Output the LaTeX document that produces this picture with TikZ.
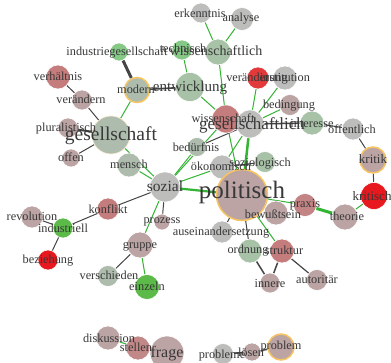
\documentclass[tikz,border=0pt]{standalone}
\usepackage{fontspec}
\setmainfont{Liberation Serif}
\pgfdeclarelayer{edges}
\pgfdeclarelayer{labels}
\pgfsetlayers{edges,main,labels}
\begin{document}
\definecolor{cgray}{HTML}{BDBDBB}
\definecolor{csage}{HTML}{A8C2A8}
\definecolor{csagegray}{HTML}{ADBCAD}
\definecolor{clgreen}{HTML}{86C986}
\definecolor{cgreen}{HTML}{5CBA48}
\definecolor{cmauve}{HTML}{BCA4A4}
\definecolor{crose}{HTML}{C47C7C}
\definecolor{cred}{HTML}{E23A3A}
\definecolor{cbred}{HTML}{E8181F}
\definecolor{hlorange}{HTML}{F7C462}
\definecolor{egreen}{HTML}{33B533}
\definecolor{edark}{HTML}{454545}
\definecolor{tgray}{HTML}{383838}
\begin{tikzpicture}[x=1pt,y=-1pt,
  nd/.style={circle,inner sep=0pt,draw=white,line width=0.6pt,minimum size=#1},
  hl/.style={draw=hlorange,line width=1.5pt},
  ge/.style={draw=egreen,line width=1pt},
  de/.style={draw=edark,line width=1pt},
  lbl/.style={anchor=base,inner sep=0pt,text=tgray,font=\fontsize{12.3}{13}\selectfont},
  lblbig/.style={anchor=base,inner sep=0pt,text=tgray,font=\fontsize{#1}{#1}\selectfont}]
\useasboundingbox (0,0) rectangle (391,363);

% ---- circles ----
\node[nd=20pt,fill=cgray] (erkenntnis) at (201,13) {};
\node[nd=23pt,fill=cgray] (analyse) at (242,19) {};
\node[nd=26pt,fill=csage] (wissenschaftlich) at (218,52) {};
\node[nd=20pt,fill=clgreen] (technisch) at (182,50) {};
\node[nd=18pt,fill=clgreen] (industriegesellschaft) at (119,52) {};
\node[nd=24pt,fill=crose] (verhaeltnis) at (58,77) {};
\node[nd=20pt,fill=cmauve] (veraendern) at (82,100) {};
\node[nd=25pt,fill=csagegray,hl] (modern) at (137,90) {};
\node[nd=29pt,fill=csage] (entwicklung) at (190,87) {};
\node[nd=20pt,fill=cmauve] (pluralistisch) at (68,128) {};
\node[nd=38pt,fill=csagegray,draw=hlorange!30] (gesellschaft) at (111,135) {};
\node[nd=18pt,fill=cmauve] (offen) at (71,158) {};
\node[nd=24pt,fill=csagegray] (mensch) at (129,165) {};
\node[nd=30pt,fill=cgray] (sozial) at (165,187) {};
\node[nd=19pt,fill=csagegray] (beduerfnis) at (197,147) {};
\node[nd=24pt,fill=cgray] (oekonomisch) at (222,167) {};
\node[nd=21pt,fill=csage] (soziologisch) at (265,162) {};
\node[nd=22pt,fill=cred] (veraenderung) at (258,78) {};
\node[nd=24pt,fill=cgray] (institution) at (285,78) {};
\node[nd=21pt,fill=cmauve] (bedingung) at (290,105) {};
\node[nd=28pt,fill=crose] (wissenschaft) at (226,119) {};
\node[nd=28pt,fill=cgray] (gesellschaftlich) at (250,124) {};
\node[nd=24pt,fill=csage] (interesse) at (312,123) {};
\node[nd=22pt,fill=cgray] (oeffentlich) at (353,129) {};
\node[nd=26pt,fill=cmauve,hl] (kritik) at (373,160) {};
\node[nd=27pt,fill=cbred] (kritisch) at (374,196) {};
\node[nd=51pt,fill=cmauve,hl] (politisch) at (242,195) {};
\node[nd=23pt,fill=crose!80!cmauve] (praxis) at (305,205) {};
\node[nd=24pt,fill=cmauve] (bewusstsein) at (276,213) {};
\node[nd=26pt,fill=cmauve] (theorie) at (345,217) {};
\node[nd=22pt,fill=cgray] (auseinandersetzung) at (222,232) {};
\node[nd=24pt,fill=csage] (ordnung) at (250,251) {};
\node[nd=24pt,fill=crose] (struktur) at (282,251) {};
\node[nd=20pt,fill=cmauve] (innere) at (270,283) {};
\node[nd=21pt,fill=cmauve] (autoritaer) at (317,280) {};
\node[nd=22pt,fill=crose] (konflikt) at (108,209) {};
\node[nd=16pt,fill=cmauve] (prozess) at (162,222) {};
\node[nd=22pt,fill=cmauve] (revolution) at (32,217) {};
\node[nd=20pt,fill=cgreen] (industriell) at (63,228) {};
\node[nd=26pt,fill=cmauve] (gruppe) at (140,245) {};
\node[nd=20pt,fill=cbred] (beziehung) at (48,260) {};
\node[nd=21pt,fill=csagegray] (verschieden) at (108,276) {};
\node[nd=25pt,fill=cgreen] (einzeln) at (147,287) {};
\node[nd=24pt,fill=cmauve] (diskussion) at (108,338) {};
\node[nd=24pt,fill=crose!70!cmauve] (stellen) at (138,348) {};
\node[nd=34pt,fill=cmauve] (frage) at (167,353) {};
\node[nd=21pt,fill=cgray] (probleme) at (223,354) {};
\node[nd=18pt,fill=cmauve] (loesen) at (252,352) {};
\node[nd=26pt,fill=cmauve,hl] (problem) at (281,347) {};

% ---- connectors (behind the circles) ----
\begin{pgfonlayer}{edges}
\fill[white] (0,0) rectangle (391,363);
\draw[ge] (erkenntnis) -- (wissenschaftlich);
\draw[ge] (analyse) -- (wissenschaftlich);
\draw[ge] (technisch) -- (entwicklung);
\draw[ge] (wissenschaftlich) -- (wissenschaft);
\draw[ge] (entwicklung) -- (wissenschaft);
\draw[ge] (modern) -- (gesellschaft);
\draw[ge] (veraenderung) -- (gesellschaftlich);
\draw[ge] (institution) -- (gesellschaftlich);
\draw[ge] (bedingung) -- (gesellschaftlich);
\draw[ge,line width=2.5pt] (gesellschaftlich) -- (politisch);
\draw[ge] (wissenschaft) -- (politisch);
\draw[ge] (wissenschaft) -- (sozial);
\draw[ge] (oekonomisch) -- (gesellschaftlich);
\draw[ge] (sozial) -- (beduerfnis);
\draw[ge] (sozial) -- (oekonomisch);
\draw[ge,line width=2.2pt] (sozial) -- (politisch);
\draw[ge] (sozial) -- (mensch);
\draw[ge] (sozial) -- (gesellschaft);
\draw[ge] (sozial) -- (gruppe);
\draw[ge] (gruppe) -- (einzeln);
\draw[ge] (politisch) -- (praxis);
\draw[ge,line width=3pt] (praxis) -- (theorie);
\draw[ge] (theorie) -- (kritisch);
\draw[ge] (politisch) -- (struktur);
\draw[ge] (diskussion) -- (stellen);
\draw[de,line width=3pt] (industriegesellschaft) -- (modern);
\draw[de,line width=1.6pt] (modern) -- (entwicklung);
\draw[de] (verhaeltnis) -- (veraendern);
\draw[de] (veraendern) -- (gesellschaft);
\draw[de,line width=2pt] (pluralistisch) -- (gesellschaft);
\draw[de] (offen) -- (gesellschaft);
\draw[de] (beduerfnis) -- (gesellschaftlich);
\draw[de,line width=1.5pt] (gesellschaftlich) -- (interesse);
\draw[de] (interesse) -- (oeffentlich);
\draw[de] (oeffentlich) -- (kritik);
\draw[de] (kritik) -- (kritisch);
\draw[de] (politisch) -- (auseinandersetzung);
\draw[de] (politisch) -- (ordnung);
\draw[de] (oekonomisch) -- (soziologisch);
\draw[de] (sozial) -- (konflikt);
\draw[de] (konflikt) -- (industriell);
\draw[de] (industriell) -- (revolution);
\draw[de] (industriell) -- (beziehung);
\draw[de] (sozial) -- (prozess);
\draw[de] (gruppe) -- (verschieden);
\draw[de,line width=1.5pt] (ordnung) -- (innere);
\draw[de,line width=1.5pt] (struktur) -- (innere);
\draw[de,line width=1.2pt] (struktur) -- (autoritaer);
\draw[de,line width=1.5pt] (probleme) -- (loesen);
\draw[de,line width=1.5pt] (loesen) -- (problem);
\end{pgfonlayer}

% ---- labels (on top of every circle) ----
\begin{pgfonlayer}{labels}
\node[lbl] (t-erkenntnis) at (200,18) {erkenntnis};
\node[lbl] (t-analyse) at (241,22) {analyse};
\node[lbl] (t-industriegesellschaft) at (117,56) {industriegesellschaft};
\node[lbl] (t-technisch) at (183,53) {technisch};
\node[lblbig=14] (t-wissenschaftlich) at (216,56) {wissenschaftlich};
\node[lbl] (t-verhaeltnis) at (58,81) {verhältnis};
\node[lbl] (t-veraendern) at (81,104) {verändern};
\node[lbl] (t-modern) at (136,94) {modern};
\node[lblbig=15] (t-entwicklung) at (190,92) {entwicklung};
\node[lbl] (t-veraenderung) at (257,82) {veränderung};
\node[lbl] (t-institution) at (285,82) {institution};
\node[lbl] (t-bedingung) at (289,109) {bedingung};
\node[lbl] (t-wissenschaft) at (223,123) {wissenschaft};
\node[lblbig=17] (t-gesellschaftlich) at (252,130) {gesellschaftlich};
\node[lbl] (t-interesse) at (312,128) {interesse};
\node[lbl] (t-oeffentlich) at (352,134) {öffentlich};
\node[lblbig=13] (t-kritik) at (373,164) {kritik};
\node[lblbig=13] (t-kritisch) at (372,201) {kritisch};
\node[lbl] (t-pluralistisch) at (66,132) {pluralistisch};
\node[lblbig=19.5] (t-gesellschaft) at (111,141) {gesellschaft};
\node[lbl] (t-offen) at (71,162) {offen};
\node[lbl] (t-mensch) at (129,169) {mensch};
\node[lbl] (t-beduerfnis) at (196,152) {bedürfnis};
\node[lbl] (t-oekonomisch) at (221,171) {ökonomisch};
\node[lbl] (t-soziologisch) at (260,167) {soziologisch};
\node[lblbig=15.5] (t-sozial) at (165,192) {sozial};
\node[lblbig=25] (t-politisch) at (242,199) {politisch};
\node[lbl] (t-praxis) at (305,208) {praxis};
\node[lbl] (t-bewusstsein) at (273,219) {bewußtsein};
\node[lbl] (t-theorie) at (347,221) {theorie};
\node[lbl] (t-konflikt) at (108,214) {konflikt};
\node[lbl] (t-prozess) at (162,224) {prozess};
\node[lbl] (t-auseinandersetzung) at (221,236) {auseinandersetzung};
\node[lbl] (t-revolution) at (32,221) {revolution};
\node[lbl] (t-industriell) at (63,233) {industriell};
\node[lbl] (t-gruppe) at (140,249) {gruppe};
\node[lbl] (t-ordnung) at (248,254) {ordnung};
\node[lbl] (t-struktur) at (284,255) {struktur};
\node[lbl] (t-innere) at (270,288) {innere};
\node[lbl] (t-autoritaer) at (317,284) {autoritär};
\node[lbl] (t-beziehung) at (48,264) {beziehung};
\node[lbl] (t-verschieden) at (109,280) {verschieden};
\node[lbl] (t-einzeln) at (147,291) {einzeln};
\node[lbl] (t-diskussion) at (109,342) {diskussion};
\node[lbl] (t-stellen) at (136,352) {stellen};
\node[lblbig=16] (t-frage) at (167,358) {frage};
\node[lbl] (t-probleme) at (222,359) {probleme};
\node[lbl] (t-loesen) at (251,356) {lösen};
\node[lbl] (t-problem) at (281,350) {problem};
\end{pgfonlayer}
\end{tikzpicture}
\end{document}
